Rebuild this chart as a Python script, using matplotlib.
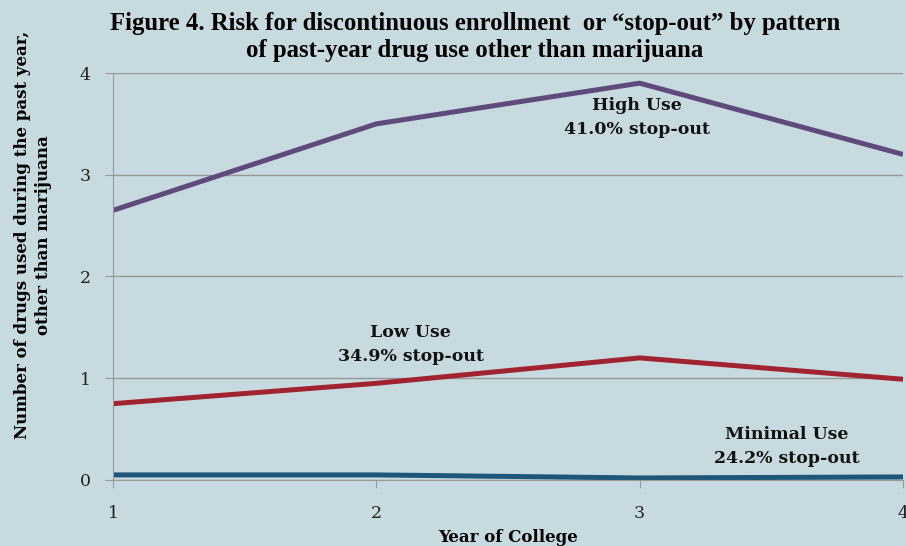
import matplotlib.pyplot as plt

years = [1, 2, 3, 4]
high_use = [2.65, 3.50, 3.90, 3.20]
low_use = [0.75, 0.95, 1.20, 0.99]
minimal_use = [0.05, 0.05, 0.02, 0.03]

bg = '#c7dae0'
fig = plt.figure(figsize=(9.06, 5.46), dpi=100, facecolor=bg)
ax = fig.add_axes([0.1247, 0.1209, 0.8720, 0.7454], facecolor=bg)

ax.plot(years, high_use, color='#5f4a7c', lw=3.6, solid_capstyle='butt')
ax.plot(years, low_use, color='#a1232f', lw=3.6, solid_capstyle='butt')
ax.plot(years, minimal_use, color='#1d5679', lw=3.6, solid_capstyle='butt')

ax.set_xlim(1, 4)
ax.set_ylim(0, 4)
ax.set_xticks(years)
ax.set_yticks([0, 1, 2, 3, 4])
ax.grid(axis='y', color='#979797', lw=1)
ax.set_axisbelow(True)
for s in ['top', 'right']:
    ax.spines[s].set_visible(False)
for s in ['left', 'bottom']:
    ax.spines[s].set_color('#979797')
ax.tick_params(colors='#979797', length=6, labelcolor='#222222', labelsize=12.5)
for lab in ax.get_xticklabels() + ax.get_yticklabels():
    lab.set_family('DejaVu Serif')
ax.tick_params(axis='y', pad=10)
ax.tick_params(axis='x', pad=12)

txt = dict(family='DejaVu Serif', weight='bold', fontsize=12.5, ha='center', va='center',
           color='#111111', linespacing=1.55)
ax.text(2.99, 3.56, 'High Use\n41.0% stop-out', **txt)
ax.text(2.13, 1.33, 'Low Use\n34.9% stop-out', **txt)
ax.text(3.56, 0.33, 'Minimal Use\n24.2% stop-out', **txt)

ax.set_xlabel('Year of College', family='DejaVu Serif', weight='bold', fontsize=12, labelpad=5)
fig.text(0.036, 0.57, 'Number of drugs used during the past year,\nother than marijuana',
         family='DejaVu Serif', weight='bold', fontsize=12, rotation=90, ha='center', va='center',
         linespacing=1.3)
fig.text(0.524, 0.932, 'Figure 4. Risk for discontinuous enrollment  or \u201cstop-out\u201d by pattern\nof past-year drug use other than marijuana',
         family='Liberation Serif', weight='bold', fontsize=17.8, ha='center', va='center', linespacing=1.25)

fig.savefig('out.png', dpi=100, facecolor=bg)
